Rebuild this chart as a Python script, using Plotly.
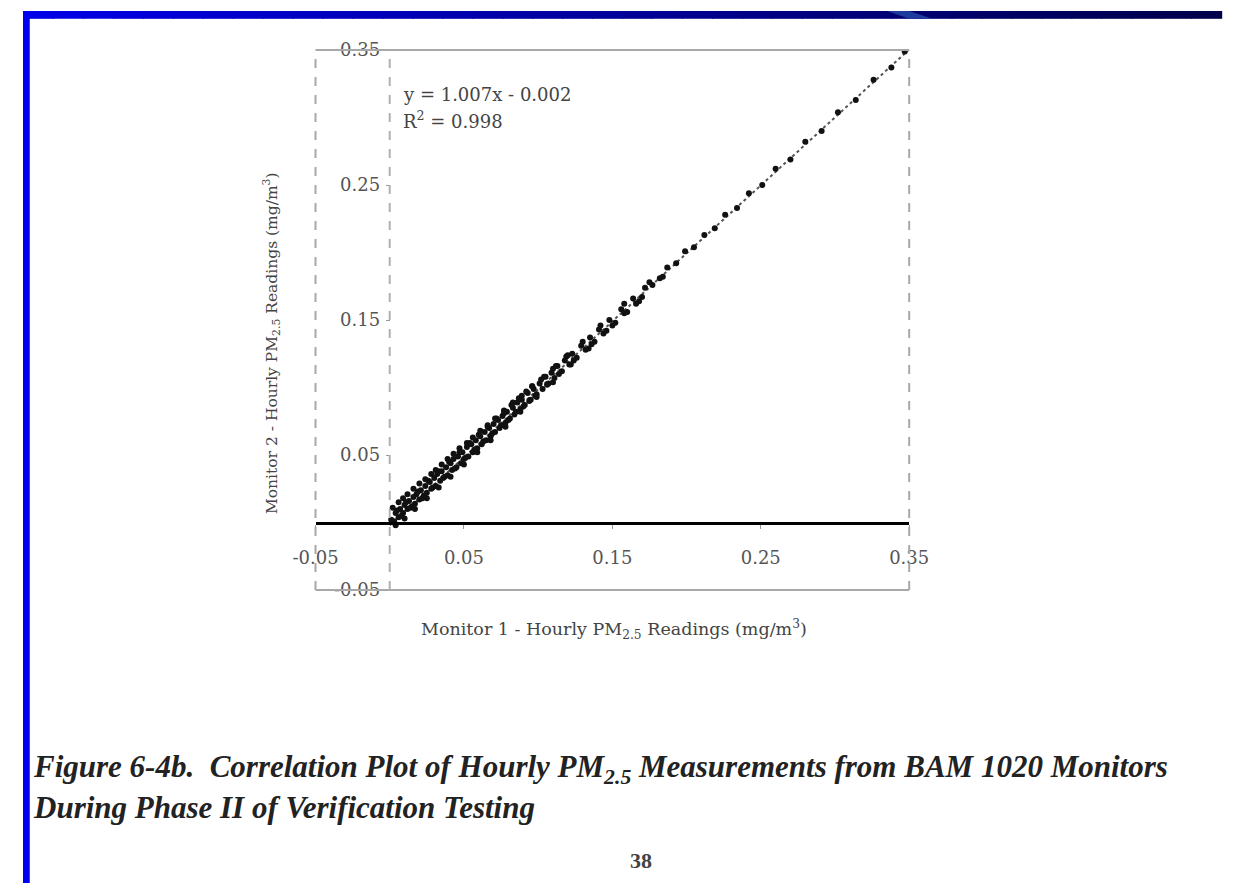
import plotly.graph_objects as go

# ---- data (mg/m^3) ----
monitor1 = [0.001, 0.003, 0.004, 0.006, 0.007, 0.009, 0.010, 0.012, 0.013, 0.014, 0.016, 0.017,
            0.018, 0.020, 0.021, 0.023, 0.024, 0.025, 0.027, 0.028, 0.030, 0.031, 0.032, 0.034,
            0.035, 0.036, 0.038, 0.039, 0.041, 0.042, 0.043, 0.045, 0.046, 0.048, 0.049, 0.050,
            0.052, 0.053, 0.055, 0.056, 0.058, 0.059, 0.061, 0.062, 0.064, 0.065, 0.067, 0.068,
            0.070, 0.071, 0.073, 0.074, 0.076, 0.078, 0.079, 0.081, 0.083, 0.084, 0.086, 0.088,
            0.089, 0.091, 0.093, 0.095, 0.097, 0.099, 0.101, 0.103, 0.105, 0.107, 0.109, 0.111,
            0.113, 0.116, 0.118, 0.121, 0.123, 0.126, 0.129, 0.132, 0.135, 0.138, 0.141, 0.144,
            0.148, 0.152, 0.156, 0.160, 0.164, 0.168, 0.172, 0.177, 0.182, 0.187, 0.193, 0.199,
            0.205, 0.212, 0.219, 0.226, 0.234, 0.242, 0.251, 0.260, 0.270, 0.280, 0.291, 0.302,
            0.314, 0.326, 0.338, 0.347,
            0.005, 0.008, 0.011, 0.015, 0.019, 0.022, 0.026, 0.029, 0.033, 0.037, 0.040, 0.044,
            0.047, 0.051, 0.054, 0.057, 0.060, 0.063, 0.066, 0.069, 0.072, 0.075, 0.077, 0.080,
            0.082, 0.085, 0.087, 0.090, 0.092, 0.094, 0.096, 0.098, 0.102, 0.106, 0.110, 0.114,
            0.119, 0.124, 0.130, 0.136, 0.142, 0.150, 0.158, 0.166, 0.175,
            0.002, 0.006, 0.009, 0.012, 0.016, 0.020, 0.024, 0.028, 0.031, 0.035, 0.039, 0.043,
            0.047, 0.052, 0.056, 0.061, 0.066, 0.071, 0.077, 0.083, 0.089, 0.096, 0.104, 0.112,
            0.120, 0.004, 0.010, 0.017, 0.025, 0.033, 0.041, 0.050, 0.059, 0.068, 0.078, 0.088,
            0.099, 0.110, 0.122, 0.134, 0.146, 0.158, 0.170, 0.184]
monitor2 = [0.002, 0.001, 0.007, 0.004, 0.010, 0.007, 0.013, 0.010, 0.016, 0.011, 0.019, 0.014,
            0.021, 0.017, 0.024, 0.020, 0.027, 0.022, 0.030, 0.025, 0.033, 0.027, 0.036, 0.031,
            0.038, 0.033, 0.041, 0.035, 0.044, 0.039, 0.047, 0.041, 0.049, 0.044, 0.052, 0.047,
            0.056, 0.049, 0.058, 0.052, 0.061, 0.055, 0.064, 0.058, 0.067, 0.061, 0.070, 0.064,
            0.073, 0.067, 0.076, 0.070, 0.079, 0.074, 0.082, 0.077, 0.085, 0.080, 0.089, 0.084,
            0.091, 0.087, 0.096, 0.091, 0.099, 0.095, 0.103, 0.099, 0.108, 0.103, 0.111, 0.107,
            0.116, 0.112, 0.120, 0.117, 0.125, 0.122, 0.131, 0.128, 0.137, 0.134, 0.143, 0.140,
            0.150, 0.148, 0.158, 0.156, 0.166, 0.164, 0.174, 0.176, 0.181, 0.189, 0.192, 0.201,
            0.204, 0.213, 0.218, 0.228, 0.233, 0.244, 0.250, 0.262, 0.269, 0.282, 0.290, 0.304,
            0.313, 0.328, 0.337, 0.349,
            0.009, 0.005, 0.015, 0.012, 0.023, 0.018, 0.031, 0.026, 0.038, 0.034, 0.045, 0.040,
            0.052, 0.048, 0.059, 0.054, 0.065, 0.060, 0.071, 0.066, 0.077, 0.072, 0.081, 0.076,
            0.087, 0.082, 0.092, 0.086, 0.097, 0.090, 0.101, 0.094, 0.106, 0.102, 0.114, 0.110,
            0.123, 0.120, 0.134, 0.132, 0.146, 0.146, 0.162, 0.162, 0.178,
            0.011, 0.015, 0.018, 0.021, 0.025, 0.029, 0.032, 0.036, 0.039, 0.043, 0.047, 0.051,
            0.055, 0.059, 0.063, 0.068, 0.072, 0.077, 0.083, 0.089, 0.094, 0.101, 0.108, 0.116,
            0.124, -0.002, 0.003, 0.010, 0.018, 0.026, 0.034, 0.043, 0.052, 0.061, 0.071, 0.082,
            0.093, 0.104, 0.117, 0.129, 0.142, 0.155, 0.167, 0.182]

fit_slope = 1.007
fit_intercept = -0.002
fit_x = [0.0, 0.35]
fit_label = "y = 1.007x - 0.002"
r2_label = "R<sup>2</sup> = 0.998"

tick_values = [-0.05, 0.05, 0.15, 0.25, 0.35]
tick_labels = ["-0.05", "0.05", "0.15", "0.25", "0.35"]
axis_range = [-0.05, 0.35]

x_title = "Monitor 1 - Hourly PM<sub>2.5</sub> Readings (mg/m<sup>3</sup>)"
y_title = "Monitor 2 - Hourly PM<sub>2.5</sub> Readings (mg/m<sup>3</sup>)"
caption_1 = "Figure 6-4b.  Correlation Plot of Hourly PM<sub>2.5</sub> Measurements from BAM 1020 Monitors"
caption_2 = "During Phase II of Verification Testing"
page_no = "38"

# ---- layout geometry ----
W, H = 1241, 893
x0_px, x1_px = 303, 918
y0_px, y1_px = 40, 593
xdom = [x0_px / W, x1_px / W]
ydom = [1 - y1_px / H, 1 - y0_px / H]
span = axis_range[1] - axis_range[0]
frac0 = (0 - axis_range[0]) / span
xaxis_pos = ydom[0] + frac0 * (ydom[1] - ydom[0])
yaxis_pos = xdom[0] + frac0 * (xdom[1] - xdom[0])

fig = go.Figure()

fig.add_trace(go.Scatter(
    x=fit_x, y=[fit_slope * v + fit_intercept for v in fit_x],
    mode="lines", line=dict(color="#555555", width=2, dash="dot"),
    hoverinfo="skip", showlegend=False))

fig.add_trace(go.Scatter(
    x=monitor1, y=monitor2, mode="markers",
    marker=dict(color="#111111", size=6, symbol="circle"),
    showlegend=False))

tickfont = dict(family="DejaVu Serif", size=18, color="#555555")
fig.update_layout(
    autosize=True,
    margin=dict(l=0, r=0, t=0, b=0),
    paper_bgcolor="white", plot_bgcolor="white",
    xaxis=dict(domain=xdom, range=axis_range, anchor="free", position=xaxis_pos,
               tickmode="array", tickvals=tick_values, ticktext=tick_labels,
               showgrid=False, zeroline=False, showline=True, linecolor="black", linewidth=3,
               ticks="outside", ticklen=4, tickcolor="#999999", tickfont=tickfont,
               ticklabelstandoff=14),
    yaxis=dict(domain=ydom, range=axis_range, anchor="free", position=yaxis_pos,
               tickmode="array", tickvals=tick_values, ticktext=tick_labels,
               showgrid=False, zeroline=False, showline=False,
               ticks="outside", ticklen=4, tickcolor="#999999", tickfont=tickfont,
               ticklabelstandoff=2),
)

# frame and x=0 reference line
frame = "#a8a8a8"
fig.add_shape(type="line", xref="x domain", yref="y domain", x0=0, x1=1, y0=1, y1=1,
              line=dict(color=frame, width=2))
fig.add_shape(type="line", xref="x domain", yref="y domain", x0=0, x1=1, y0=0, y1=0,
              line=dict(color=frame, width=2))
fig.add_shape(type="line", xref="x domain", yref="y domain", x0=0, x1=0, y0=0, y1=1,
              line=dict(color=frame, width=2, dash="dash"))
fig.add_shape(type="line", xref="x domain", yref="y domain", x0=1, x1=1, y0=0, y1=1,
              line=dict(color=frame, width=2, dash="dash"))
fig.add_shape(type="line", xref="x", yref="y domain", x0=0, x1=0, y0=0, y1=1,
              line=dict(color="#b0b0b0", width=2, dash="dash"))

# slide frame (blue)
n_steps = 40
for i in range(n_steps):
    t = i / (n_steps - 1)
    b = int(230 - t * (230 - 75))
    fig.add_shape(type="rect", xref="paper", yref="paper", layer="above",
                  x0=i / n_steps, x1=(i + 1) / n_steps + 0.001, y0=1 - 8 / H, y1=1,
                  line=dict(width=0), fillcolor=f"rgb(0,0,{b})")
fig.add_shape(type="path", xref="paper", yref="paper", layer="above",
              path=f"M {895/W},1 L {918/W},1 L {942/W},{1-8/H} L {918/W},{1-8/H} Z",
              line=dict(width=0), fillcolor="#1d3c9c")
fig.add_shape(type="rect", xref="paper", yref="paper", layer="above",
              x0=0, x1=7 / W, y0=0, y1=1, line=dict(width=0), fillcolor="#0000ee")

textfont = dict(family="DejaVu Serif", color="#444444")
fig.add_annotation(text=fit_label, xref="paper", yref="paper", x=392 / W, y=1 - 85 / H,
                   xanchor="left", yanchor="middle", showarrow=False,
                   font=dict(textfont, size=18))
fig.add_annotation(text=r2_label, xref="paper", yref="paper", x=392 / W, y=1 - 112 / H,
                   xanchor="left", yanchor="middle", showarrow=False,
                   font=dict(textfont, size=18))
fig.add_annotation(text=x_title, xref="paper", yref="paper", x=612 / W, y=1 - 633 / H,
                   xanchor="center", yanchor="middle", showarrow=False,
                   font=dict(textfont, size=17.5))
fig.add_annotation(text=y_title, xref="paper", yref="paper", x=257 / W, y=1 - 340 / H,
                   xanchor="center", yanchor="middle", showarrow=False, textangle=-90,
                   font=dict(textfont, size=15.5))

capfont = dict(family="Liberation Serif", size=31, color="#222222", weight="bold", style="italic")
fig.add_annotation(text=caption_1, xref="paper", yref="paper", x=8 / W, y=1 - 776 / H,
                   xanchor="left", yanchor="middle", showarrow=False, font=capfont)
fig.add_annotation(text=caption_2, xref="paper", yref="paper", x=8 / W, y=1 - 816 / H,
                   xanchor="left", yanchor="middle", showarrow=False, font=capfont)
fig.add_annotation(text=page_no, xref="paper", yref="paper", x=640 / W, y=1 - 870 / H,
                   xanchor="center", yanchor="middle", showarrow=False,
                   font=dict(family="Liberation Serif", size=22, color="#444444", weight="bold"))

fig.write_html("out.html",
               default_width="100vw", default_height="100vh",
               config={"displayModeBar": False, "responsive": True},
               post_script="document.body.style.margin='0';document.body.style.overflow='hidden';"
                           "window.dispatchEvent(new Event('resize'));")
